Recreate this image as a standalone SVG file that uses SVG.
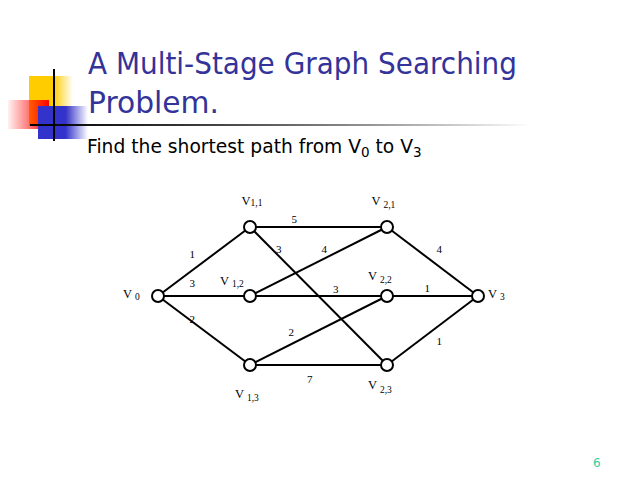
<svg xmlns="http://www.w3.org/2000/svg" width="638" height="478" viewBox="0 0 638 478">
<defs>
<linearGradient id="gy" x1="0" x2="1" y1="0" y2="0"><stop offset="0" stop-color="#FFCC00"/><stop offset="0.55" stop-color="#FFCC00"/><stop offset="1" stop-color="#FFCC00" stop-opacity="0"/></linearGradient>
<linearGradient id="gr" x1="0" x2="1" y1="0" y2="0"><stop offset="0" stop-color="#FF0000" stop-opacity="0.05"/><stop offset="1" stop-color="#FF0000"/></linearGradient>
<linearGradient id="gb" x1="0" x2="1" y1="0" y2="0"><stop offset="0" stop-color="#3333CC"/><stop offset="0.55" stop-color="#3333CC"/><stop offset="1" stop-color="#3333CC" stop-opacity="0"/></linearGradient>
<linearGradient id="gl" x1="0" x2="1" y1="0" y2="0"><stop offset="0" stop-color="#000"/><stop offset="0.3" stop-color="#333"/><stop offset="1" stop-color="#000" stop-opacity="0"/></linearGradient>
</defs>
<style>
.e{stroke:#000;stroke-width:2;fill:none}
.n{fill:#fff;stroke:#000;stroke-width:2}
.w{font-family:"Liberation Serif",serif;font-size:11px;fill:#000}
.v{font-family:"Liberation Serif",serif;font-size:12.5px;fill:#000}
.s{font-size:9.5px}
</style>
<rect width="638" height="478" fill="#fff"/>
<g id="decor">
<rect x="29" y="76" width="44" height="50" fill="url(#gy)"/>
<rect x="8" y="100" width="41" height="29" fill="url(#gr)"/>
<rect x="38" y="106" width="50" height="33" fill="url(#gb)"/>
<rect x="30" y="124" width="500" height="2" fill="url(#gl)"/>
<rect x="53" y="69" width="2" height="72" fill="#000"/>
</g>
<g id="title">
<text x="88" y="74" font-family="DejaVu Sans,sans-serif" font-size="30" fill="#333399" textLength="429" lengthAdjust="spacingAndGlyphs">A Multi-Stage Graph Searching</text>
<text x="88" y="113" font-family="DejaVu Sans,sans-serif" font-size="30" fill="#333399" textLength="131" lengthAdjust="spacingAndGlyphs">Problem.</text>
</g>
<g id="subtitle">
<text x="87" y="153" font-family="DejaVu Sans,sans-serif" font-size="18.7" fill="#000">Find the shortest path from V<tspan font-size="13.5" dy="4">0</tspan><tspan dy="-4"> to V</tspan><tspan font-size="13.5" dy="4">3</tspan></text>
</g>
<g id="connectors">
<line class="e" x1="158" y1="296" x2="250" y2="227"/>
<line class="e" x1="158" y1="296" x2="250" y2="296"/>
<line class="e" x1="158" y1="296" x2="250" y2="365"/>
<line class="e" x1="250" y1="227" x2="387" y2="227"/>
<line class="e" x1="250" y1="227" x2="387" y2="365"/>
<line class="e" x1="250" y1="296" x2="387" y2="227"/>
<line class="e" x1="250" y1="296" x2="387" y2="296"/>
<line class="e" x1="250" y1="365" x2="387" y2="296"/>
<line class="e" x1="250" y1="365" x2="387" y2="365"/>
<line class="e" x1="387" y1="227" x2="478" y2="296"/>
<line class="e" x1="387" y1="296" x2="478" y2="296"/>
<line class="e" x1="387" y1="365" x2="478" y2="296"/>
<text class="w" x="189.5" y="257.5">1</text>
<text class="w" x="189.5" y="287">3</text>
<text class="w" x="189.5" y="323">2</text>
<text class="w" x="291.5" y="222.5">5</text>
<text class="w" x="276" y="252.5">3</text>
<text class="w" x="321.5" y="252.5">4</text>
<text class="w" x="333" y="292.5">3</text>
<text class="w" x="424.5" y="292">1</text>
<text class="w" x="436.5" y="252.5">4</text>
<text class="w" x="288.5" y="335.5">2</text>
<text class="w" x="436.5" y="344.5">1</text>
<text class="w" x="307" y="382.5">7</text>
</g>
<g id="v0"><circle class="n" cx="158" cy="296" r="6"/><text class="v" x="123" y="298">V <tspan class="s" dy="2">0</tspan></text></g>
<g id="v11"><circle class="n" cx="250" cy="227" r="6"/><text class="v" x="241.5" y="205">V<tspan class="s" dy="1">1,1</tspan></text></g>
<g id="v12"><circle class="n" cx="250" cy="296" r="6"/><text class="v" x="220" y="285">V <tspan class="s" dy="1.5">1,2</tspan></text></g>
<g id="v13"><circle class="n" cx="250" cy="365" r="6"/><text class="v" x="235" y="398">V <tspan class="s" dy="2.5">1,3</tspan></text></g>
<g id="v21"><circle class="n" cx="387" cy="227" r="6"/><text class="v" x="371.5" y="205">V <tspan class="s" dy="2.5">2,1</tspan></text></g>
<g id="v22"><circle class="n" cx="387" cy="296" r="6"/><text class="v" x="368" y="279.5">V <tspan class="s" dy="3">2,2</tspan></text></g>
<g id="v23"><circle class="n" cx="387" cy="365" r="6"/><text class="v" x="368" y="389">V <tspan class="s" dy="4">2,3</tspan></text></g>
<g id="v3"><circle class="n" cx="478" cy="296" r="6"/><text class="v" x="488" y="298">V <tspan class="s" dy="2">3</tspan></text></g>
<g id="page"><text x="593" y="467" font-family="DejaVu Sans,sans-serif" font-size="12" fill="#33CC99">6</text></g>
</svg>
